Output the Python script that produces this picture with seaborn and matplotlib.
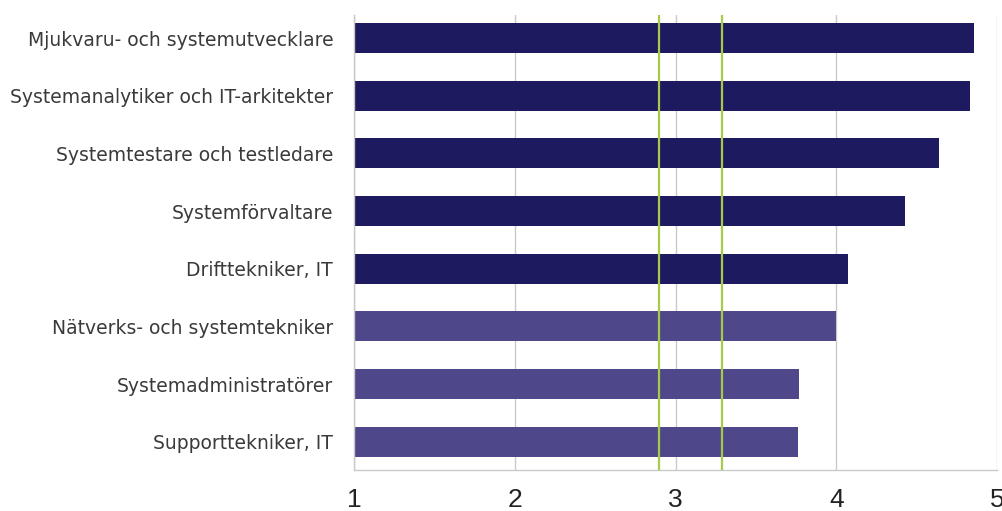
import matplotlib
matplotlib.use("Agg")
import matplotlib.pyplot as plt
import seaborn as sns
import pandas as pd

# Occupations and their average scores (scale 1-5)
occupations = [
    "Mjukvaru- och systemutvecklare",
    "Systemanalytiker och IT-arkitekter",
    "Systemtestare och testledare",
    "Systemförvaltare",
    "Drifttekniker, IT",
    "Nätverks- och systemtekniker",
    "Systemadministratörer",
    "Supporttekniker, IT",
]
scores = [4.86, 4.83, 4.64, 4.43, 4.07, 4.00, 3.77, 3.76]
groups = ["A", "A", "A", "A", "A", "B", "B", "B"]
group_colors = {"A": "#1e1a60", "B": "#4e478a"}

# Reference band limits
band_lines = [2.9, 3.29]
x_ticks = [1, 2, 3, 4, 5]

df = pd.DataFrame({"yrke": occupations, "varde": scores, "grupp": groups})

sns.set_style("white")
plt.rcParams["font.family"] = ["Liberation Sans", "DejaVu Sans"]

fig = plt.figure(figsize=(10.02, 5.11), dpi=100)
ax = fig.add_axes([354 / 1002, 41 / 511, 643 / 1002, 455 / 511])

sns.barplot(
    data=df, x="varde", y="yrke", hue="yrke", orient="h",
    palette=[group_colors[g] for g in groups], legend=False,
    saturation=1, width=0.52, ax=ax, zorder=2, linewidth=0,
)

for v in band_lines:
    ax.axvline(v, color="#a8ca48", linewidth=1.6, zorder=3)

ax.set_xlim(1, 5)
ax.set_ylim(7.49, -0.40)
ax.set_xticks(x_ticks)
ax.set_xticklabels([str(t) for t in x_ticks])
ax.xaxis.grid(True, color="#c9c9c9", linewidth=1.0, zorder=0)
ax.set_axisbelow(True)
ax.set_xlabel("")
ax.set_ylabel("")

for side in ["top", "right"]:
    ax.spines[side].set_visible(False)
for side in ["left", "bottom"]:
    ax.spines[side].set_color("#c9c9c9")
    ax.spines[side].set_linewidth(1.0)

ax.tick_params(axis="x", length=0, pad=13, labelsize=19, labelcolor="#222222")
ax.tick_params(axis="y", length=0, pad=15, labelsize=13.5, labelcolor="#3a3a3a")
for lbl in ax.get_yticklabels():
    lbl.set_family("DejaVu Sans")

fig.savefig("out.png", dpi=100)
